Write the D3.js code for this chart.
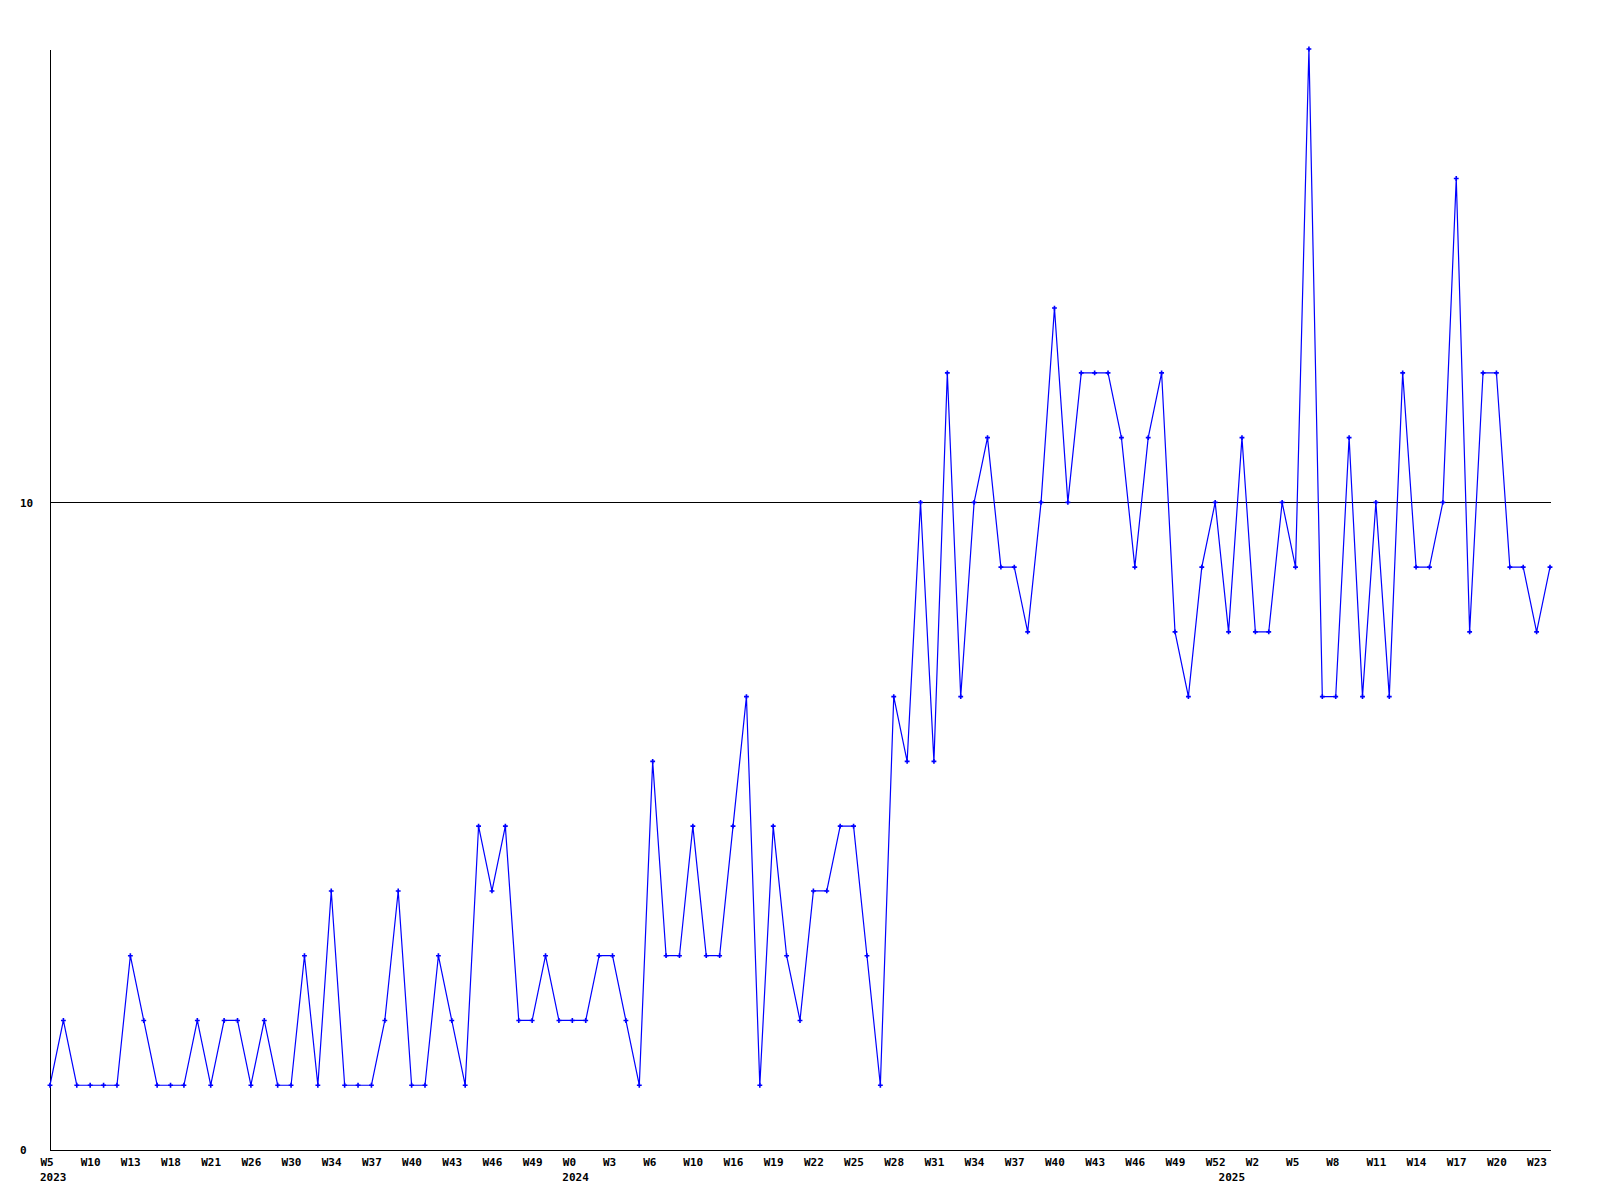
<!DOCTYPE html>
<html>
<head>
<meta charset="utf-8">
<script src="https://cdn.jsdelivr.net/npm/d3@7"></script>
<style>
  html, body { margin: 0; padding: 0; background: #fff; }
  svg { display: block; }
  text { font-family: "DejaVu Sans Mono", "Liberation Mono", monospace; font-weight: bold; font-size: 11px; fill: #000; }
</style>
</head>
<body>
<svg id="chart" width="1600" height="1200"></svg>
<script>
// ---- data ----
const values = [
  1, 2, 1, 1, 1, 1, 3, 2, 1, 1,
  1, 2, 1, 2, 2, 1, 2, 1, 1, 3,
  1, 4, 1, 1, 1, 2, 4, 1, 1, 3,
  2, 1, 5, 4, 5, 2, 2, 3, 2, 2,
  2, 3, 3, 2, 1, 6, 3, 3, 5, 3,
  3, 5, 7, 1, 5, 3, 2, 4, 4, 5,
  5, 3, 1, 7, 6, 10, 6, 12, 7, 10,
  11, 9, 9, 8, 10, 13, 10, 12, 12, 12,
  11, 9, 11, 12, 8, 7, 9, 10, 8, 11,
  8, 8, 10, 9, 17, 7, 7, 11, 7, 10,
  7, 12, 9, 9, 10, 15, 8, 12, 12, 9,
  9, 8, 9
];
const tickLabels = [
  "W5", "W10", "W13", "W18", "W21", "W26", "W30", "W34", "W37", "W40",
  "W43", "W46", "W49", "W0", "W3", "W6", "W10", "W16", "W19", "W22",
  "W25", "W28", "W31", "W34", "W37", "W40", "W43", "W46", "W49", "W52",
  "W2", "W5", "W8", "W11", "W14", "W17", "W20", "W23"
];
const tickEvery = 3;
const yearLabels = ["2023", "2024", "2025"];
const yearStartIndex = [0, 39, 88];
const yTicks = [0, 10];
const yMax = 17;

// ---- chart ----
const svg = d3.select("#chart");
const x = d3.scaleLinear().domain([0, values.length - 1]).range([50, 1550]);
const y = d3.scaleLinear().domain([0, yMax]).range([1150, 49]);

// x axis line
svg.append("line")
  .attr("x1", 50).attr("x2", 1551)
  .attr("y1", y(0) + 0.5).attr("y2", y(0) + 0.5)
  .attr("stroke", "#000").attr("stroke-width", 1).attr("shape-rendering", "crispEdges");
// y axis line
svg.append("line")
  .attr("x1", 50.5).attr("x2", 50.5)
  .attr("y1", 50).attr("y2", y(0) + 1)
  .attr("stroke", "#000").attr("stroke-width", 1).attr("shape-rendering", "crispEdges");

// grid lines (non-zero ticks)
svg.selectAll("line.grid").data(yTicks.filter(d => d !== 0)).enter().append("line")
  .attr("class", "grid")
  .attr("x1", 50).attr("x2", 1551)
  .attr("y1", d => Math.round(y(d)) + 0.5).attr("y2", d => Math.round(y(d)) + 0.5)
  .attr("stroke", "#000").attr("stroke-width", 1).attr("shape-rendering", "crispEdges");

// y labels
const yAxis = d3.axisLeft(y).tickValues(yTicks).tickSize(0).tickFormat(d3.format("d"));
const gy = svg.append("g").call(yAxis);
gy.select(".domain").remove();
gy.selectAll("text")
  .attr("x", 20).attr("dy", "0.35em")
  .attr("text-anchor", "start")
  .style("font-family", "DejaVu Sans Mono").style("font-weight", "bold").style("font-size", "11px");

// x tick labels
const tickIdx = tickLabels.map((_, i) => i * tickEvery);
const xAxis = d3.axisBottom(x).tickValues(tickIdx).tickSize(0)
  .tickFormat((d, i) => tickLabels[i]);
const gx = svg.append("g").attr("transform", `translate(0,${y(0)})`).call(xAxis);
gx.select(".domain").remove();
gx.selectAll("text")
  .attr("text-anchor", "start")
  .attr("dx", -10).attr("y", 16).attr("dy", 0)
  .style("font-family", "DejaVu Sans Mono").style("font-weight", "bold").style("font-size", "11px");

// year labels
svg.selectAll("text.year").data(yearLabels).enter().append("text")
  .attr("class", "year")
  .attr("x", (d, i) => x(yearStartIndex[i]) - 10)
  .attr("y", y(0) + 31)
  .text(d => d);

// series line
const line = d3.line().x((d, i) => x(i)).y(d => y(d));
svg.append("path").datum(values)
  .attr("d", line)
  .attr("fill", "none").attr("stroke", "#0000ff").attr("stroke-width", 1.2);

// markers
const sym = d3.symbol().type(d3.symbolCross).size(13);
svg.selectAll("path.mk").data(values).enter().append("path")
  .attr("class", "mk")
  .attr("transform", (d, i) => `translate(${x(i)},${y(d)})`)
  .attr("d", sym)
  .attr("fill", "#0000ff");
</script>
</body>
</html>
